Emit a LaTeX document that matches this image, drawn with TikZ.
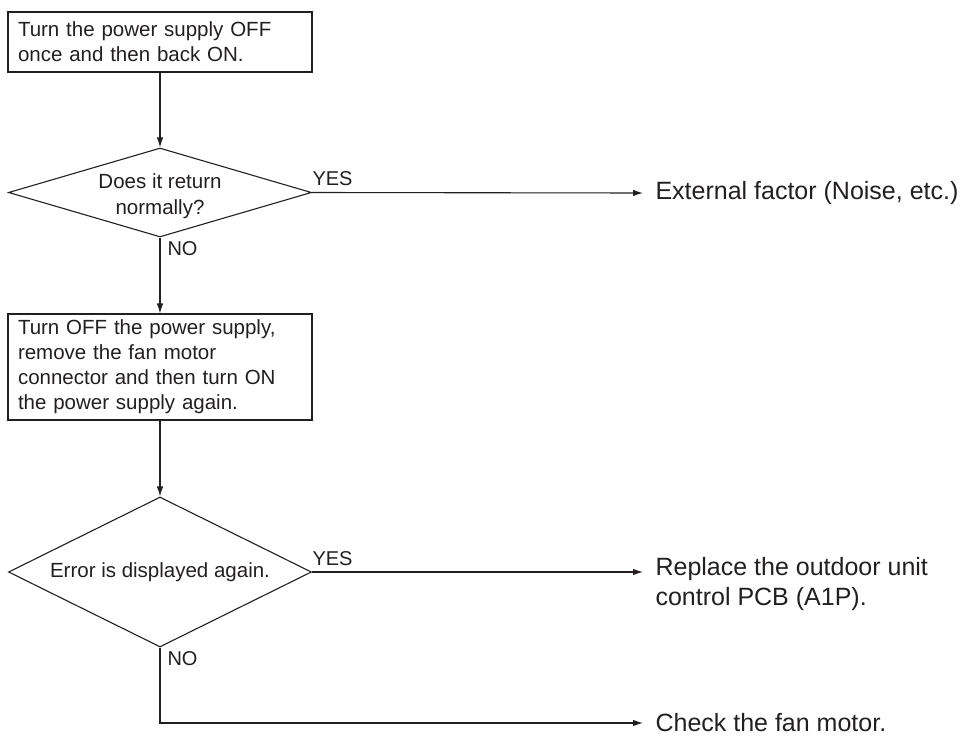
\documentclass[tikz,border=0pt]{standalone}
\usepackage{fontspec}
\setmainfont{Liberation Sans}
\usetikzlibrary{shapes.geometric,arrows.meta}
\definecolor{ink}{RGB}{35,31,32}
\begin{document}
\begin{tikzpicture}[x=1pt,y=-1pt,
  line width=1.1pt, draw=ink, text=ink,
  stepbox/.style={draw, rectangle, minimum width=304pt, text width=284pt, inner xsep=10pt, inner ysep=0pt, align=left, font=\fontsize{20.5}{25}\selectfont},
  decision/.style={draw, diamond, inner sep=0pt, minimum width=303pt},
  dtext/.style={align=center, font=\fontsize{20.5}{26}\selectfont},
  lbl/.style={font=\fontsize{20}{24}\selectfont, inner sep=0pt},
  result/.style={align=left, inner xsep=12pt, inner ysep=0pt, font=\fontsize{25}{30}\selectfont},
  flow/.style={-{Latex[length=10pt,width=6.5pt]}}
]
\useasboundingbox (0,0) rectangle (963,738);

\node[stepbox, minimum height=60pt] (b1) at (160,42) {Turn the power supply OFF\\once and then back ON.};
\node[decision, minimum height=89pt] (d1) at (160,192.5) {};
\node[dtext] (d1t) at (160,196) {Does it return\\normally?};
\node[stepbox, minimum height=106pt] (b2) at (160,367) {Turn OFF the power supply,\\remove the fan motor\\connector and then turn ON\\the power supply again.};
\node[decision, minimum height=150pt] (d2) at (160,572) {};
\node[dtext] (d2t) at (160,572) {Error is displayed again.};

\node[result, anchor=west] (ext) at (643,193) {External factor (Noise, etc.)};
\node[result, anchor=north west] (rep) at (643,557) {Replace the outdoor unit\\control PCB (A1P).};
\node[result, anchor=west] (chk) at (643,723) {Check the fan motor.};

\draw[flow] (b1.south) -- (d1.north);
\draw[flow] (d1.east) -- (ext.west);
\draw[flow] (d1.south) -- (b2.north);
\draw[flow] (b2.south) -- (d2.north);
\draw[flow] (d2.east) -- (d2.east -| rep.west);
\draw[flow] (d2.south) |- (chk.west);

\node[lbl, anchor=south west] (y1) at (312,186) {YES};
\node[lbl, anchor=north west] (n1) at (167,241) {NO};
\node[lbl, anchor=south west] (y2) at (312,566) {YES};
\node[lbl, anchor=north west] (n2) at (167,651) {NO};
\end{tikzpicture}
\end{document}
